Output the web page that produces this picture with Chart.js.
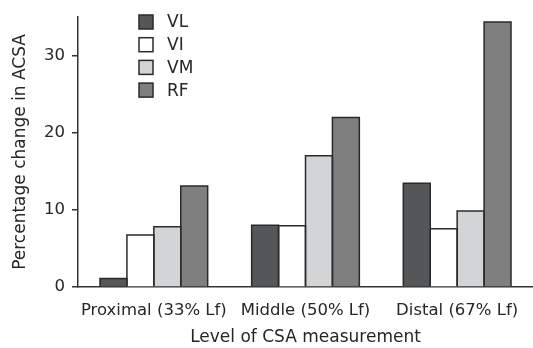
<!DOCTYPE html>
<html>
<head>
<meta charset="utf-8">
<script src="https://cdn.jsdelivr.net/npm/chart.js@4"></script>
<style>
  html, body { margin: 0; padding: 0; background: #fff; }
  #wrap { width: 533px; height: 348px; position: relative; }
</style>
</head>
<body>
<div id="wrap"><canvas id="chart_one"></canvas></div>
<script>
const levels = ['Proximal (33% Lf)', 'Middle (50% Lf)', 'Distal (67% Lf)'];
const vl = [1.1, 8.0, 13.45];
const vi = [6.75, 7.95, 7.55];
const vm = [7.8, 17.0, 9.85];
const rf = [13.1, 21.95, 34.35];
const yTicks = [0, 10, 20, 30];

const FONT = 'DejaVu Sans';
const INK = '#262626';
const EDGE = '#2a2a2a';

// bar outlines: one shared line where bars touch, no line at the base
const barEdges = {
    id: 'barEdges',
    afterDatasetsDraw(chart) {
        const ctx = chart.ctx;
        ctx.save();
        ctx.strokeStyle = EDGE;
        ctx.lineWidth = 1.5;
        chart.data.datasets.forEach((ds, i) => {
            chart.getDatasetMeta(i).data.forEach(bar => {
                const l = bar.x - bar.width / 2, r = bar.x + bar.width / 2;
                ctx.beginPath();
                ctx.moveTo(l, bar.base);
                ctx.lineTo(l, bar.y);
                ctx.lineTo(r, bar.y);
                ctx.lineTo(r, bar.base);
                ctx.stroke();
            });
        });
        ctx.restore();
    }
};

// legend drawn inside the plot, top left like the figure
const boxLegend = {
    id: 'boxLegend',
    afterDraw(chart) {
        const ctx = chart.ctx;
        ctx.save();
        ctx.font = '17px "' + FONT + '"';
        ctx.textBaseline = 'middle';
        chart.data.datasets.forEach((ds, i) => {
            const y = 22 + i * 22.7;
            ctx.fillStyle = ds.backgroundColor;
            ctx.fillRect(139, y - 7, 14, 14);
            ctx.strokeStyle = EDGE;
            ctx.lineWidth = 1.5;
            ctx.strokeRect(139, y - 7, 14, 14);
            ctx.fillStyle = INK;
            ctx.fillText(ds.label, 167, y + 1);
        });
        ctx.restore();
    }
};

const ct = document.getElementById('chart_one');
new Chart(ct, {
    type: 'bar',
    data: {
        labels: levels,
        datasets: [
            { label: 'VL', data: vl, backgroundColor: '#555657' },
            { label: 'VI', data: vi, backgroundColor: '#ffffff' },
            { label: 'VM', data: vm, backgroundColor: '#d3d4d5' },
            { label: 'RF', data: rf, backgroundColor: '#7f7f7f' }
        ].map(d => Object.assign(d, {
            borderWidth: 0,
            categoryPercentage: 0.71,
            barPercentage: 1.0
        }))
    },
    options: {
        responsive: true,
        maintainAspectRatio: false,
        animation: false,
        layout: { padding: { top: 14, right: -4, left: 0, bottom: 0 } },
        plugins: {
            legend: { display: false },
            tooltip: { enabled: false }
        },
        scales: {
            x: {
                grid: { display: false },
                border: { display: true, color: '#333', width: 1.5 },
                ticks: { color: INK, font: { family: FONT, size: 16.5 }, padding: 6, maxRotation: 0 },
                title: { display: true, text: 'Level of CSA measurement', color: INK,
                         font: { family: FONT, size: 17 }, padding: { top: 0, bottom: 0 } },
                afterFit: s => { s.height = 61; }
            },
            y: {
                min: 0,
                max: 35,
                grid: { display: true, drawOnChartArea: false, drawTicks: true, tickLength: 6, color: '#333', lineWidth: 1.5 },
                border: { display: true, color: '#333', width: 1.5 },
                ticks: { color: INK, font: { family: FONT, size: 16.5 }, padding: 7 },
                afterBuildTicks: s => { s.ticks = yTicks.map(v => ({ value: v })); },
                title: { display: true, text: 'Percentage change in ACSA', color: INK,
                         font: { family: FONT, size: 17 }, padding: { top: 10, bottom: 0 } },
                afterFit: s => { s.width = 78; }
            }
        }
    },
    plugins: [barEdges, boxLegend]
});
</script>
</body>
</html>
